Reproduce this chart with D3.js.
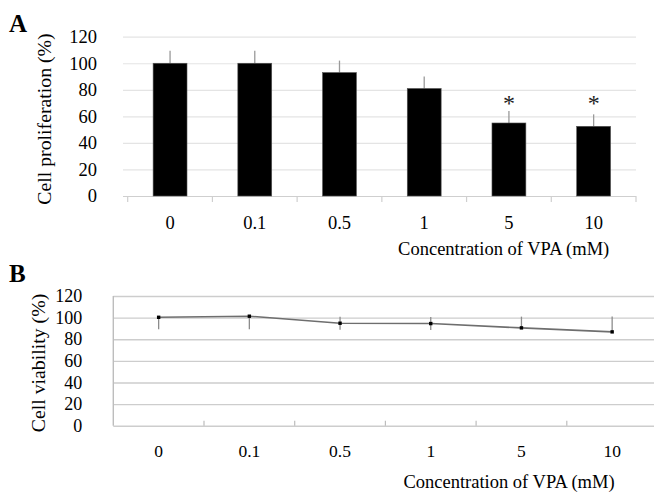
<!DOCTYPE html>
<html>
<head>
<meta charset="utf-8">
<script src="https://cdn.jsdelivr.net/npm/d3@7"></script>
<style>
  html, body { margin: 0; padding: 0; background: #fff; }
  svg { display: block; font-family: "Liberation Serif", "Times New Roman", serif; }
</style>
</head>
<body>
<svg id="chart" width="654" height="495"></svg>
<script>
// ---- data ----
const categories = ["0", "0.1", "0.5", "1", "5", "10"];
const yTicks = [0, 20, 40, 60, 80, 100, 120];

// Panel A: cell proliferation (%)
const prolifValues = [100, 100, 93, 81, 55, 52.5];
const prolifErrors = [9.5, 9.5, 9, 9, 9, 9];
const prolifSignificant = ["", "", "", "", "*", "*"];
const asteriskLevel = 72;

// Panel B: cell viability (%)
const viabValues = [100.3, 101.3, 94.8, 94.5, 90.5, 86.8];
const viabErrPlus = [0, 0, 6, 6, 10.4, 14.2];
const viabErrMinus = [11, 12, 6, 6, 0, 0];

const xTitle = "Concentration of VPA (mM)";
const yTitleA = "Cell proliferation (%)";
const yTitleB = "Cell viability (%)";

const svg = d3.select("#chart");
const textColor = "#000";

// ================= Panel A =================
(function () {
  const left = 127.7, right = 636, top = 36.7, bottom = 196;
  const y = d3.scaleLinear().domain([0, 120]).range([bottom, top]);
  const xOuter = d3.scaleBand().domain(categories).range([left, right]).padding(0);
  const x = d3.scaleBand().domain(categories).range([left, right]).paddingInner(0.6).paddingOuter(0.3);
  const g = svg.append("g");

  // gridlines + y labels
  const yAxis = d3.axisLeft(y).tickValues(yTicks).tickSize(-(right - 123)).tickPadding(26);
  const ga = g.append("g").attr("transform", "translate(123,0)").call(yAxis);
  ga.select(".domain").remove();
  ga.selectAll(".tick line").attr("stroke", (d) => d === 0 ? "#cfcfcf" : "#e4e4e4").attr("stroke-width", 1.2);
  ga.selectAll(".tick text").attr("font-size", 18.5).attr("fill", textColor)
    .attr("font-family", "Liberation Serif");

  // category boundary ticks (downward)
  const bounds = categories.map((c) => xOuter(c)).concat([right]);
  g.selectAll("line.ctick").data(bounds).join("line")
    .attr("x1", (d) => d).attr("x2", (d) => d)
    .attr("y1", bottom).attr("y2", bottom + 6)
    .attr("stroke", "#cfcfcf").attr("stroke-width", 1.2);

  // x labels
  const xAxis = d3.axisBottom(xOuter).tickSize(0).tickPadding(20);
  const gx = g.append("g").attr("transform", `translate(0,${bottom})`).call(xAxis);
  gx.select(".domain").remove();
  gx.selectAll(".tick text").attr("font-size", 18.5).attr("fill", textColor)
    .attr("font-family", "Liberation Serif");

  // error bars
  g.selectAll("line.err").data(categories).join("line")
    .attr("x1", (c) => x(c) + x.bandwidth() / 2).attr("x2", (c) => x(c) + x.bandwidth() / 2)
    .attr("y1", (c, i) => y(prolifValues[i])).attr("y2", (c, i) => y(prolifValues[i] + prolifErrors[i]))
    .attr("stroke", "#9a9a9a").attr("stroke-width", 1.3);

  // bars
  g.selectAll("rect.bar").data(categories).join("rect")
    .attr("x", (c) => x(c)).attr("width", x.bandwidth())
    .attr("y", (c, i) => y(prolifValues[i]))
    .attr("height", (c, i) => y(0) - y(prolifValues[i]))
    .attr("fill", "#000").attr("stroke", "#555").attr("stroke-width", 0.6);

  // significance marks
  g.selectAll("text.sig").data(categories).join("text")
    .attr("x", (c) => x(c) + x.bandwidth() / 2)
    .attr("y", y(asteriskLevel) + 11)
    .attr("text-anchor", "middle").attr("font-size", 24).attr("fill", "#222")
    .text((c, i) => prolifSignificant[i]);

  // titles
  g.append("text").attr("x", 503.7).attr("y", 255).attr("text-anchor", "middle")
    .attr("font-size", 18.5).attr("fill", textColor).text(xTitle);
  g.append("text").attr("transform", "translate(51,119) rotate(-90)").attr("text-anchor", "middle")
    .attr("font-size", 19.8).attr("fill", textColor).text(yTitleA);
  g.append("text").attr("x", 9).attr("y", 32).attr("font-size", 25).attr("font-weight", "bold")
    .attr("fill", "#000").text("A");
})();

// ================= Panel B =================
(function () {
  const left = 113.3, right = 657.5, top = 296, bottom = 425.7;
  const y = d3.scaleLinear().domain([0, 120]).range([bottom, top]);
  const xOuter = d3.scaleBand().domain(categories).range([left, right]).padding(0);
  const x = d3.scalePoint().domain(categories).range([left, right]).padding(0.5);
  const g = svg.append("g");

  const yAxis = d3.axisLeft(y).tickValues(yTicks).tickSize(-(right - left)).tickPadding(31);
  const ga = g.append("g").attr("transform", `translate(${left},0)`).call(yAxis);
  ga.select(".domain").remove();
  ga.selectAll(".tick line").attr("stroke", "#cdcdcd").attr("stroke-width", 1.4);
  ga.selectAll(".tick text").attr("font-size", 18).attr("fill", textColor)
    .attr("font-family", "Liberation Serif");

  // left axis line
  g.append("line").attr("x1", left).attr("x2", left).attr("y1", top).attr("y2", bottom)
    .attr("stroke", "#bdbdbd").attr("stroke-width", 1.4);

  // inner boundary ticks (upward)
  const bounds = categories.slice(1).map((c) => xOuter(c));
  g.selectAll("line.ctick").data(bounds).join("line")
    .attr("x1", (d) => d).attr("x2", (d) => d)
    .attr("y1", bottom).attr("y2", bottom - 5)
    .attr("stroke", "#bdbdbd").attr("stroke-width", 1.2);

  const xAxis = d3.axisBottom(xOuter).tickSize(0).tickPadding(19);
  const gx = g.append("g").attr("transform", `translate(0,${bottom})`).call(xAxis);
  gx.select(".domain").remove();
  gx.selectAll(".tick text").attr("font-size", 17.5).attr("fill", textColor)
    .attr("font-family", "Liberation Serif");

  // error bars
  g.selectAll("line.err").data(categories).join("line")
    .attr("x1", (c) => x(c)).attr("x2", (c) => x(c))
    .attr("y1", (c, i) => y(viabValues[i] - viabErrMinus[i]))
    .attr("y2", (c, i) => y(viabValues[i] + viabErrPlus[i]))
    .attr("stroke", "#8c8c8c").attr("stroke-width", 1.3);

  // line
  const line = d3.line().x((c) => x(c)).y((c, i) => y(viabValues[i]));
  g.append("path").datum(categories).attr("d", line)
    .attr("fill", "none").attr("stroke", "#6e6e6e").attr("stroke-width", 1.6);

  // markers
  g.selectAll("rect.pt").data(categories).join("rect")
    .attr("x", (c) => x(c) - 1.7).attr("y", (c, i) => y(viabValues[i]) - 1.7)
    .attr("width", 3.4).attr("height", 3.4).attr("fill", "#000");

  g.append("text").attr("x", 509).attr("y", 488).attr("text-anchor", "middle")
    .attr("font-size", 18.5).attr("fill", textColor).text(xTitle);
  g.append("text").attr("transform", "translate(45,363) rotate(-90)").attr("text-anchor", "middle")
    .attr("font-size", 19.8).attr("fill", textColor).text(yTitleB);
  g.append("text").attr("x", 9).attr("y", 282).attr("font-size", 25).attr("font-weight", "bold")
    .attr("fill", "#000").text("B");
})();
</script>
</body>
</html>
